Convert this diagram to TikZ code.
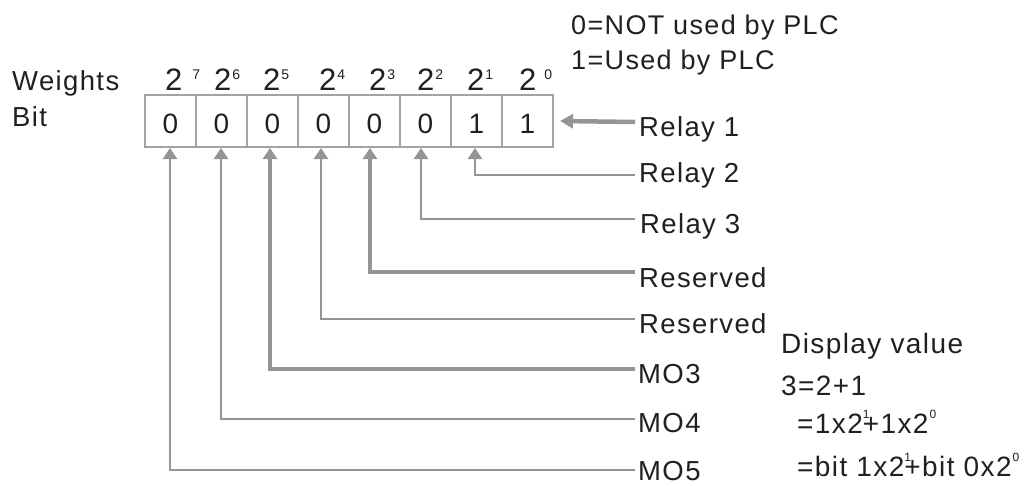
\documentclass[tikz,border=0pt]{standalone}
\usepackage{fontspec}
\setmainfont{Liberation Sans}
\newfontfamily\lblfont[LetterSpace=5]{Liberation Sans}
\newfontfamily\dspfont[LetterSpace=5]{Liberation Sans}
\usetikzlibrary{arrows.meta}
\definecolor{lgray}{HTML}{959595}
\definecolor{bgray}{HTML}{A3A3A3}
\definecolor{ink}{HTML}{231F20}
\newcommand\wsup[1]{\raisebox{11pt}{\fontsize{14}{14}\selectfont #1}}
\newcommand\dsup[1]{\rlap{\raisebox{15pt}{\fontsize{12}{12}\selectfont #1}}}
\begin{document}
\begin{tikzpicture}[x=1pt,y=-1pt,
  cell/.style={draw=bgray,line width=2.3pt,minimum width=51pt,minimum height=52pt,inner sep=0pt,outer sep=0pt,anchor=north west},
  digit/.style={font=\fontsize{28}{28}\selectfont,text=ink,anchor=base,inner sep=0pt},
  weight/.style={font=\fontsize{31}{31}\selectfont,text=ink,anchor=base west,inner sep=0pt},
  head/.style={font=\lblfont\fontsize{27.5}{28}\selectfont,text=ink,anchor=base west,inner sep=0pt},
  note/.style={font=\lblfont\fontsize{27}{28}\selectfont,text=ink,anchor=base west,inner sep=0pt},
  lbl/.style={font=\lblfont\fontsize{27.5}{28}\selectfont,text=ink,anchor=base west,inner sep=0pt},
  dsp/.style={font=\dspfont\fontsize{28}{28}\selectfont,text=ink,anchor=base west,inner sep=0pt},
  conn/.style={draw=lgray,line width=2.5pt,shorten >=1pt,-{Triangle[width=14pt,length=11pt]}},
  thickconn/.style={conn,line width=4pt},
  relayarrow/.style={draw=lgray,line width=4.5pt,-{Triangle[width=14pt,length=13pt]}}
]
\useasboundingbox (0,0) rectangle (1036,485);

% headings
\node[head] (hw) at (12,90) {Weights};
\node[head] (hb) at (12,126) {Bit};

% notes
\node[note] (n0) at (571,34) {0=NOT used by PLC};
\node[note] (n1) at (571,69) {1=Used by PLC};

% cells
\foreach \b/\i in {7/0,6/1,5/2,4/3,3/4,2/5,1/6,0/7}{
  \node[cell] (c\b) at ({145+51*\i},95) {};
}
\foreach \b/\v in {7/0,6/0,5/0,4/0,3/0,2/0,1/1,0/1}{
  \node[digit] (d\b) at (c\b.center |- 0,133) {\v};
}

% weights
\node[weight] (w7) at (165,90) {2\kern10pt\wsup{7}};
\node[weight] (w6) at (214,90) {2\kern1pt\wsup{6}};
\node[weight] (w5) at (263,90) {2\kern1pt\wsup{5}};
\node[weight] (w4) at (319,90) {2\kern1pt\wsup{4}};
\node[weight] (w3) at (369,90) {2\kern1pt\wsup{3}};
\node[weight] (w2) at (417,90) {2\kern1pt\wsup{2}};
\node[weight] (w1) at (467,90) {2\kern1pt\wsup{1}};
\node[weight] (w0) at (519,90) {2\kern8pt\wsup{0}};

% line ends
\coordinate (e0) at (635,122);
\coordinate (e1) at (635,175);
\coordinate (e2) at (635,219);
\coordinate (e3) at (635,272);
\coordinate (e4) at (635,319);
\coordinate (e5) at (635,369);
\coordinate (e6) at (635,419);
\coordinate (e7) at (635,470);

% labels
\node[lbl] (l0) at (639,136) {Relay 1};
\node[lbl] (l1) at (639,182) {Relay 2};
\node[lbl] (l2) at (640,233) {Relay 3};
\node[lbl] (l3) at (639,287) {Reserved};
\node[lbl] (l4) at (639,333) {Reserved};
\node[lbl] (l5) at (638,383) {MO3};
\node[lbl] (l6) at (638,432) {MO4};
\node[lbl] (l7) at (638,480) {MO5};

% connectors
\draw[relayarrow] (e0) -- ([xshift=7pt]c0.east);
\draw[conn] (e1) -| ([xshift=-1.5pt]c1.south);
\draw[conn] (e2) -| ([xshift=-4.5pt]c2.south);
\draw[thickconn] (e3) -| ([xshift=-4.5pt]c3.south);
\draw[conn] (e4) -| ([xshift=-2.5pt]c4.south);
\draw[thickconn] (e5) -| ([xshift=-2.5pt]c5.south);
\draw[conn] (e6) -| ([xshift=-0.5pt]c6.south);
\draw[conn] (e7) -| ([xshift=-0.5pt]c7.south);

% display value
\node[dsp] (v0) at (781,353) {Display value};
\node[dsp] (v1) at (781,395) {3=2+1};
\node[dsp] (v2) at (797,433) {=1x2\dsup{1}+1x2\kern1pt\dsup{0}};
\node[dsp] (v3) at (797,476) {=bit 1x2\dsup{1}+bit 0x2\kern1pt\dsup{0}};
\end{tikzpicture}
\end{document}
